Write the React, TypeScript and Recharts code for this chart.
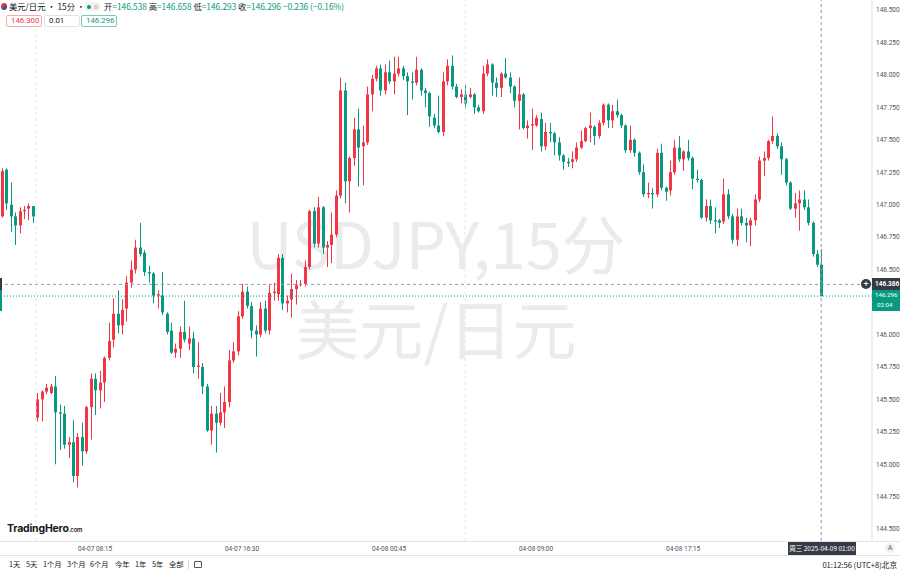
import { ComposedChart, Bar, XAxis, YAxis, ReferenceLine } from "recharts";

// ─── Data (15-minute bars, index 0 = 04-07 08:15) ───────────────────────────

const FIRST_BAR = -21;

const opens = [
  146.91, 147.27, 147.0, 146.91, 146.84, 146.95, 146.97, 146.99, 145.36, 145.5,
  145.56, 145.55, 145.6, 145.4, 145.39, 145.15, 145.17, 144.91, 145.21, 145.1,
  145.44, 145.66, 145.57, 145.63, 145.82, 145.96, 146.16, 146.07, 146.2, 146.4,
  146.5, 146.67, 146.63, 146.48, 146.47, 146.3, 146.3, 146.16, 146.03, 145.86,
  145.89, 146.02, 145.93, 145.97, 145.75, 145.75, 145.6, 145.26, 145.39, 145.32,
  145.4, 145.48, 145.8, 145.87, 146.14, 146.33, 146.22, 146.03, 146.0, 146.2,
  146.03, 146.32, 146.31, 146.59, 146.24, 146.27, 146.35, 146.38, 146.39, 146.52,
  146.95, 146.7, 146.98, 146.67, 146.69, 146.77, 147.07, 147.88, 147.18, 147.36,
  147.58, 147.45, 147.48, 147.85, 147.97, 148.05, 147.88, 148.02, 147.95, 148.01,
  148.05, 147.99, 147.95, 147.94, 148.04, 147.88, 147.86, 147.67, 147.61, 147.56,
  147.95, 148.07, 147.91, 147.83, 147.85, 147.83, 147.85, 147.75, 147.72, 148.01,
  148.08, 147.94, 147.9, 148.01, 147.98, 147.91, 147.8, 147.85, 147.59, 147.61,
  147.61, 147.66, 147.45, 147.56, 147.55, 147.48, 147.38, 147.33, 147.33, 147.35,
  147.44, 147.49, 147.59, 147.6, 147.53, 147.63, 147.77, 147.65, 147.72, 147.69,
  147.61, 147.42, 147.5, 147.4, 147.25, 147.08, 147.09, 147.08, 147.4, 147.13,
  147.11, 147.25, 147.44, 147.35, 147.41, 147.36, 147.2, 147.19, 146.9, 146.99,
  146.88, 146.88, 146.87, 147.08, 146.91, 146.73, 146.91, 146.86, 146.84, 146.88,
  147.04, 147.34, 147.36, 147.49, 147.53, 147.45, 147.35, 147.17, 146.97, 147.01,
  147.04, 146.98, 146.86, 146.62, 146.538,
];

const highs = [
  147.28, 147.28, 147.17, 146.94, 146.98, 146.99, 147.01, 146.99, 145.55, 145.57,
  145.62, 145.62, 145.68, 145.46, 145.45, 145.21, 145.34, 145.24, 145.32, 145.45,
  145.7, 145.7, 145.72, 145.83, 146.09, 146.28, 146.34, 146.27, 146.45, 146.57,
  146.73, 146.86, 146.65, 146.53, 146.48, 146.34, 146.48, 146.17, 146.09, 145.93,
  146.06, 146.26, 146.06, 146.02, 145.94, 145.78, 145.62, 145.45, 145.45, 145.55,
  145.6, 145.88, 145.94, 146.18, 146.39, 146.37, 146.25, 146.07, 146.25, 146.26,
  146.38, 146.4, 146.62, 146.62, 146.3, 146.47, 146.42, 146.42, 146.57, 146.96,
  146.98, 147.06, 146.99, 146.72, 146.94, 147.11, 147.98, 147.94, 147.37, 147.67,
  147.74, 147.61, 147.91, 148.0, 148.07, 148.08, 148.08, 148.11, 148.14, 148.14,
  148.07, 148.02, 148.02, 148.14, 148.05, 147.9, 147.87, 147.7, 147.84, 148.02,
  148.12, 148.15, 147.93, 147.89, 147.92, 147.9, 147.86, 147.77, 148.07, 148.12,
  148.09, 147.98, 148.02, 148.13, 148.02, 147.92, 147.98, 147.86, 147.65, 147.74,
  147.69, 147.71, 147.63, 147.63, 147.56, 147.52, 147.39, 147.36, 147.41, 147.48,
  147.57, 147.6, 147.71, 147.61, 147.65, 147.78, 147.78, 147.77, 147.81, 147.7,
  147.62, 147.61, 147.51, 147.41, 147.31, 147.17, 147.13, 147.43, 147.47, 147.14,
  147.34, 147.5, 147.53, 147.42, 147.5, 147.37, 147.27, 147.2, 147.04, 147.04,
  146.98, 146.89, 147.2, 147.12, 146.93, 146.97, 146.97, 146.9, 146.9, 147.08,
  147.37, 147.41, 147.5, 147.68, 147.55, 147.48, 147.36, 147.18, 147.09, 147.11,
  147.11, 147.04, 146.87, 146.65, 146.658,
];

const lows = [
  146.9, 146.96, 146.79, 146.69, 146.78, 146.89, 146.88, 146.86, 145.33, 145.33,
  145.54, 145.54, 145.0, 145.11, 145.12, 145.05, 144.86, 144.82, 144.99, 145.08,
  145.19, 145.38, 145.43, 145.48, 145.8, 145.9, 146.01, 146.0, 146.1, 146.36,
  146.47, 146.6, 146.45, 146.4, 146.24, 146.2, 146.15, 146.0, 145.85, 145.82,
  145.82, 145.94, 145.88, 145.7, 145.66, 145.54, 145.25, 145.15, 145.09, 145.3,
  145.28, 145.44, 145.78, 145.84, 146.12, 146.2, 145.97, 145.83, 145.98, 146.01,
  146.0, 146.26, 146.26, 146.19, 146.17, 146.13, 146.23, 146.37, 146.37, 146.5,
  146.67, 146.67, 146.62, 146.52, 146.55, 146.75, 147.05, 147.01, 146.94, 147.3,
  147.14, 147.15, 147.46, 147.72, 147.95, 147.84, 147.85, 147.93, 147.85, 147.99,
  147.96, 147.69, 147.81, 147.92, 147.84, 147.75, 147.6, 147.59, 147.55, 147.53,
  147.92, 147.89, 147.82, 147.78, 147.74, 147.82, 147.7, 147.71, 147.7, 147.99,
  147.84, 147.83, 147.83, 147.97, 147.86, 147.75, 147.58, 147.58, 147.51, 147.42,
  147.6, 147.41, 147.42, 147.48, 147.38, 147.34, 147.27, 147.29, 147.28, 147.33,
  147.43, 147.48, 147.48, 147.46, 147.51, 147.61, 147.59, 147.59, 147.67, 147.59,
  147.4, 147.4, 147.37, 147.23, 147.06, 147.05, 146.97, 147.06, 147.11, 147.03,
  147.07, 147.23, 147.33, 147.26, 147.34, 147.12, 147.17, 146.89, 146.87, 146.85,
  146.78, 146.82, 146.85, 146.89, 146.7, 146.68, 146.84, 146.71, 146.68, 146.84,
  147.02, 147.22, 147.34, 147.47, 147.43, 147.23, 147.15, 146.96, 146.9, 146.8,
  146.96, 146.84, 146.6, 146.52, 146.293,
];

const closes = [
  147.26, 147.01, 146.91, 146.84, 146.95, 146.96, 146.99, 146.91, 145.5, 145.56,
  145.59, 145.6, 145.4, 145.39, 145.15, 145.17, 144.91, 145.21, 145.1, 145.44,
  145.66, 145.57, 145.63, 145.82, 145.95, 146.16, 146.07, 146.19, 146.4, 146.5,
  146.67, 146.62, 146.48, 146.47, 146.3, 146.31, 146.17, 146.02, 145.86, 145.89,
  146.02, 145.96, 145.97, 145.75, 145.76, 145.6, 145.26, 145.39, 145.32, 145.4,
  145.48, 145.8, 145.87, 146.14, 146.33, 146.22, 146.03, 146.0, 146.2, 146.03,
  146.32, 146.33, 146.59, 146.24, 146.26, 146.35, 146.38, 146.39, 146.52, 146.95,
  146.7, 146.98, 146.67, 146.69, 146.77, 147.07, 147.88, 147.18, 147.36, 147.58,
  147.44, 147.48, 147.85, 147.97, 148.05, 147.88, 148.02, 147.95, 148.01, 148.05,
  147.99, 147.95, 147.94, 148.04, 147.88, 147.86, 147.68, 147.61, 147.56, 147.95,
  148.07, 147.91, 147.83, 147.85, 147.78, 147.85, 147.75, 147.72, 148.01, 148.08,
  147.94, 147.9, 148.01, 147.98, 147.91, 147.8, 147.85, 147.59, 147.61, 147.62,
  147.67, 147.45, 147.56, 147.55, 147.48, 147.38, 147.33, 147.32, 147.35, 147.44,
  147.49, 147.59, 147.61, 147.53, 147.63, 147.77, 147.65, 147.72, 147.69, 147.61,
  147.42, 147.5, 147.4, 147.25, 147.08, 147.09, 147.08, 147.4, 147.13, 147.1,
  147.25, 147.44, 147.35, 147.41, 147.36, 147.2, 147.19, 146.9, 146.99, 146.88,
  146.87, 146.86, 147.08, 146.91, 146.73, 146.91, 146.86, 146.84, 146.88, 147.04,
  147.34, 147.36, 147.49, 147.53, 147.45, 147.35, 147.17, 146.97, 147.01, 147.04,
  146.98, 146.86, 146.62, 146.538, 146.296,
];

const timeTicks = [0, 33, 66, 99, 132];
const timeLabels = ["04-07 08:15", "04-07 16:30", "04-08 00:45", "04-08 09:00", "04-08 17:15"];

// 146.250 is hidden behind the last-price label, so it is left out
const priceTicks = [
  144.5, 144.75, 145.0, 145.25, 145.5, 145.75, 146.0, 146.5,
  146.75, 147.0, 147.25, 147.5, 147.75, 148.0, 148.25, 148.5,
];

const crosshairBar = 163;
const crosshairPrice = 146.386;
const lastPrice = 146.296;
const sessionBreaks = [-13.25, 83.05];
const rangeButtons = ["1天", "5天", "1个月", "3个月", "6个月", "今年", "1年", "5年", "全部"];
const rangeButtonLeft = [9, 26, 43, 67, 90, 115, 135, 152, 169];

// ─── Styling ────────────────────────────────────────────────────────────────

const UP = "#F23645";
const DOWN = "#089981";
const FONT = "Roboto, 'Noto Sans CJK SC', sans-serif";
const CJK = "'Noto Sans CJK SC', Roboto, sans-serif";

const candles = opens.map((o, i) => ({
  k: FIRST_BAR + i,
  o,
  h: highs[i],
  l: lows[i],
  c: closes[i],
  range: [Math.min(lows[i], o, closes[i]), Math.max(highs[i], o, closes[i])],
}));

// ─── Candle shape ───────────────────────────────────────────────────────────

function Candle(props: any) {
  const { x, y, width, height, payload } = props;
  if (x == null || y == null || !payload) return null;
  const [lo, hi] = payload.range;
  const top = Math.min(y, y + height);
  const bot = Math.max(y, y + height);
  const ppu = hi > lo ? (bot - top) / (hi - lo) : 0;
  const cx = Math.round(x + width / 2) + 0.5;
  const color = payload.c >= payload.o ? UP : DOWN;
  const bTop = top + (hi - Math.max(payload.o, payload.c)) * ppu;
  const bBot = top + (hi - Math.min(payload.o, payload.c)) * ppu;
  return (
    <g>
      <line x1={cx} x2={cx} y1={top} y2={bot} stroke={color} strokeWidth={1} />
      <rect
        x={cx - 1.5}
        y={bTop}
        width={3}
        height={Math.max(1, bBot - bTop)}
        fill={color}
      />
    </g>
  );
}

// ─── Component ──────────────────────────────────────────────────────────────

export default function App() {
  return (
    <div
      style={{
        position: "absolute",
        left: 0,
        top: 0,
        width: 900,
        height: 570,
        background: "#fff",
        overflow: "hidden",
        fontFamily: FONT,
        color: "#131722",
      }}
    >
      {/* ── Watermark ── */}
      <div
        style={{
          position: "absolute",
          left: 0,
          width: 872,
          top: 205,
          textAlign: "center",
          fontSize: 64,
          lineHeight: "72px",
          color: "#ebebee",
          fontFamily: CJK,
        }}
      >
        <div>USDJPY,15分</div>
        <div style={{ marginTop: 13 }}>美元/日元</div>
      </div>

      {/* ── Chart ── */}
      <div style={{ position: "absolute", left: 0, top: 0 }}>
        <ComposedChart
          width={900}
          height={570}
          data={candles}
          margin={{ top: 0, right: 0, bottom: 0, left: 0 }}
        >
          <XAxis
            dataKey="k"
            type="number"
            domain={[-21.33, 174.4]}
            allowDataOverflow
            ticks={timeTicks}
            interval={0}
            tickFormatter={(v: number) => timeLabels[timeTicks.indexOf(v)] ?? ""}
            height={29}
            axisLine={false}
            tickLine={false}
            tickSize={0}
            tickMargin={5}
            tick={{ fontSize: 6.5, fill: "#50535e", fontFamily: FONT }}
          />
          <YAxis
            orientation="right"
            type="number"
            domain={[144.409, 148.577]}
            allowDataOverflow
            ticks={priceTicks}
            interval={0}
            tickFormatter={(v: number) => v.toFixed(3)}
            width={28}
            axisLine={{ stroke: "#e0e3eb" }}
            tickLine={false}
            tickSize={0}
            tickMargin={4}
            tick={{ fontSize: 6.5, fill: "#50535e", fontFamily: FONT }}
          />
          {sessionBreaks.map((b) => (
            <ReferenceLine
              key={b}
              x={b}
              stroke="#e6e8ee"
              strokeDasharray="3 3"
            />
          ))}
          <ReferenceLine
            y={crosshairPrice}
            stroke="#9598a1"
            strokeDasharray="3 3"
          />
          <ReferenceLine y={lastPrice} stroke={DOWN} strokeDasharray="1 2" />
          <ReferenceLine
            x={crosshairBar}
            stroke="#9598a1"
            strokeDasharray="3 3"
          />
          <Bar
            dataKey="range"
            barSize={3}
            shape={<Candle />}
            isAnimationActive={false}
          />
        </ComposedChart>
      </div>

      {/* ── Header ── */}
      <div
        style={{
          position: "absolute",
          left: 1,
          top: 3,
          width: 6,
          height: 7,
          borderRadius: "50%",
          background: "linear-gradient(135deg, #d83a3a 50%, #3c4f96 50%)",
        }}
      />
      <div
        style={{
          position: "absolute",
          left: 9,
          top: 1,
          fontSize: 8.3,
          lineHeight: "11px",
          fontFamily: CJK,
          whiteSpace: "nowrap",
        }}
      >
        美元/日元 • 15分 •
      </div>
      <div
        style={{
          position: "absolute",
          left: 84,
          top: 2,
          width: 17,
          height: 9,
          borderRadius: 5,
          background: "#eef2f1",
        }}
      >
        <div
          style={{
            position: "absolute",
            left: 3,
            top: 2.5,
            width: 4,
            height: 4,
            borderRadius: "50%",
            background: DOWN,
          }}
        />
        <div
          style={{
            position: "absolute",
            left: 10,
            top: 2.5,
            width: 4,
            height: 4,
            background: "#f4c7b8",
          }}
        />
      </div>
      <div
        style={{
          position: "absolute",
          left: 104,
          top: 1,
          fontSize: 8.3,
          lineHeight: "11px",
          fontFamily: CJK,
          whiteSpace: "nowrap",
        }}
      >
        开<span style={{ color: DOWN }}>=146.538</span> 高
        <span style={{ color: DOWN }}>=146.658</span> 低
        <span style={{ color: DOWN }}>=146.293</span> 收
        <span style={{ color: DOWN }}>=146.296 −0.236 (−0.16%)</span>
      </div>
      {[
        { left: 6, text: "146.300", color: UP, border: "#f7a9b0" },
        { left: 44, text: "0.01", color: "#131722", border: "#e0e3eb" },
        { left: 81, text: "146.296", color: DOWN, border: "#7fc6b9" },
      ].map((b) => (
        <div
          key={b.left}
          style={{
            position: "absolute",
            left: b.left,
            top: 15,
            width: 36,
            height: 12,
            boxSizing: "border-box",
            border: `1px solid ${b.border}`,
            borderRadius: 2,
            fontSize: 7.8,
            lineHeight: "10px",
            paddingLeft: 4,
            color: b.color,
            background: "#fff",
          }}
        >
          {b.text}
        </div>
      ))}

      {/* ── Price labels on the right axis ── */}
      <div
        style={{
          position: "absolute",
          left: 861,
          top: 279,
          width: 10,
          height: 10,
          borderRadius: "50%",
          background: "#363a45",
          color: "#fff",
          fontSize: 9,
          lineHeight: "10px",
          textAlign: "center",
        }}
      >
        +
      </div>
      <div
        style={{
          position: "absolute",
          left: 872,
          top: 278,
          width: 28,
          height: 12,
          background: "#363a45",
          color: "#fff",
          fontSize: 6.5,
          fontWeight: 700,
          lineHeight: "12px",
          paddingLeft: 3,
          boxSizing: "border-box",
        }}
      >
        146.386
      </div>
      <div
        style={{
          position: "absolute",
          left: 872,
          top: 290,
          width: 28,
          height: 21,
          background: DOWN,
        }}
      />
      <div
        style={{
          position: "absolute",
          left: 875,
          top: 291,
          fontSize: 6.2,
          lineHeight: "8px",
          color: "#fff",
        }}
      >
        146.296
      </div>
      <div
        style={{
          position: "absolute",
          left: 877,
          top: 301,
          fontSize: 6.2,
          lineHeight: "8px",
          color: "#fff",
        }}
      >
        02:04
      </div>
      <div
        style={{ position: "absolute", left: 0, top: 278, width: 2, height: 12, background: "#363a45" }}
      />
      <div
        style={{ position: "absolute", left: 0, top: 290, width: 2, height: 21, background: DOWN }}
      />

      {/* ── Logo ── */}
      <div
        style={{
          position: "absolute",
          left: 7,
          top: 522,
          fontSize: 10.5,
          fontWeight: 700,
          fontFamily: "Inter, Roboto, sans-serif",
          letterSpacing: -0.2,
          whiteSpace: "nowrap",
        }}
      >
        TradingHero<span style={{ fontSize: 6, fontWeight: 600 }}>.com</span>
      </div>

      {/* ── Time axis frame ── */}
      <div style={{ position: "absolute", left: 0, top: 541, width: 900, height: 1, background: "#e0e3eb" }} />
      <div style={{ position: "absolute", left: 0, top: 555, width: 900, height: 1, background: "#e0e3eb" }} />
      <div
        style={{
          position: "absolute",
          left: 788,
          top: 542,
          width: 68,
          height: 13,
          background: "#363a45",
          color: "#fff",
          fontSize: 6.5,
          lineHeight: "13px",
          textAlign: "center",
          fontFamily: CJK,
          whiteSpace: "nowrap",
        }}
      >
        周三 2025-04-09 01:00
      </div>
      <div
        style={{
          position: "absolute",
          left: 885,
          top: 543,
          width: 10,
          height: 10,
          borderRadius: "50%",
          background: "#eef0f3",
          fontSize: 6.5,
          lineHeight: "10px",
          textAlign: "center",
          color: "#50535e",
        }}
      >
        A
      </div>

      {/* ── Bottom toolbar ── */}
      {rangeButtons.map((r, i) => (
        <div
          key={r}
          style={{
            position: "absolute",
            left: rangeButtonLeft[i],
            top: 559,
            fontSize: 7.3,
            lineHeight: "11px",
            fontFamily: CJK,
            whiteSpace: "nowrap",
          }}
        >
          {r}
        </div>
      ))}
      <div style={{ position: "absolute", left: 188, top: 560, width: 1, height: 9, background: "#d1d4dc" }} />
      <div
        style={{
          position: "absolute",
          left: 194,
          top: 561,
          width: 8,
          height: 7,
          border: "1px solid #50535e",
          borderRadius: 1,
          boxSizing: "border-box",
        }}
      />
      <div
        style={{
          position: "absolute",
          right: 3,
          top: 559,
          fontSize: 7.6,
          lineHeight: "11px",
          fontFamily: CJK,
          whiteSpace: "nowrap",
        }}
      >
        01:12:56 (UTC+8)北京
      </div>
    </div>
  );
}
